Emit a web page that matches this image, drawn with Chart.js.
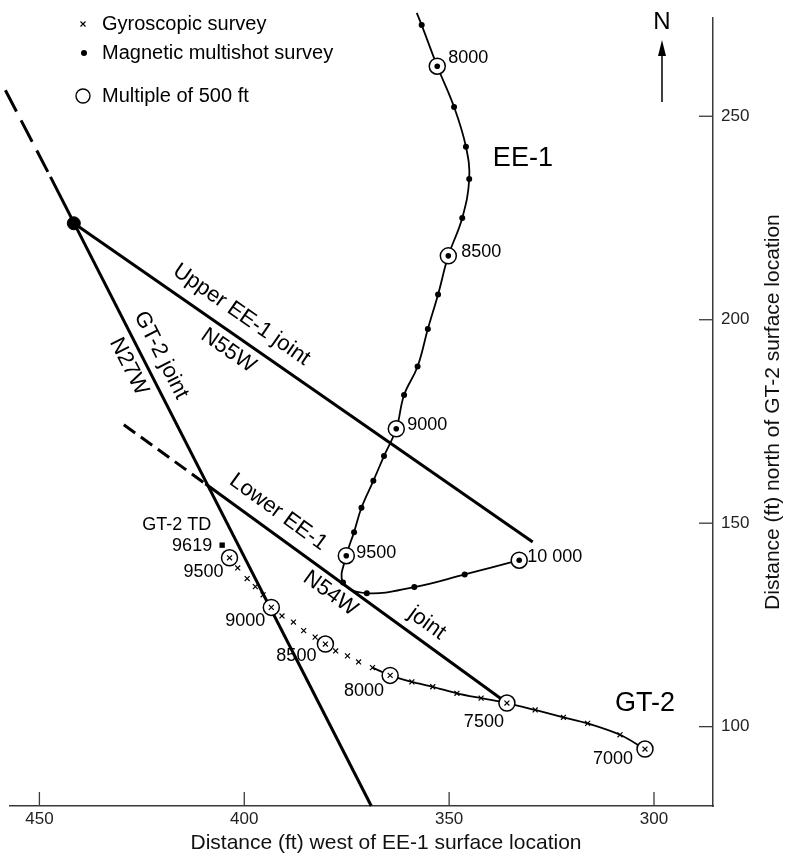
<!DOCTYPE html>
<html><head><meta charset="utf-8">
<script src="https://cdn.jsdelivr.net/npm/chart.js@4/dist/chart.umd.min.js"></script>
<style>html,body{margin:0;padding:0;background:#fff}#c{display:block}</style>
</head><body>
<canvas id="c" width="791" height="859"></canvas>
<script>
// ---------- DATA ----------
// EE-1 magnetic multishot survey (depth ft, west ft, north ft), 7900..10000 every 100 ft
const ee1Depths = [7900,8000,8100,8200,8300,8400,8500,8600,8700,8800,8900,9000,9100,9200,9300,9400,9500,9600,9700,9800,9900,10000];
const ee1West  = [356.7,352.9,348.8,345.9,345.1,346.8,350.2,352.7,355.2,357.7,361.0,362.9,365.9,368.5,371.4,373.2,375.1,375.9,370.1,358.5,346.2,332.9];
const ee1North = [272.4,262.3,252.3,242.5,234.6,225.0,215.7,206.2,197.7,188.5,181.5,173.2,166.5,160.4,153.8,147.8,142.0,135.4,132.8,134.3,137.4,140.9];
// trace continues above the plotted survey
const ee1TraceTop = {west: 357.9, north: 275.4};

// GT-2 gyroscopic survey, 7000..9500 every 100 ft
const gt2Depths = [7000,7100,7200,7300,7400,7500,7600,7700,7800,7900,8000,8100,8200,8300,8400,8500,8600,8700,8800,8900,9000,9100,9200,9300,9400,9500];
const gt2West  = [302.2,308.3,316.2,322.1,329.0,335.9,342.2,348.1,354.0,359.1,364.4,368.7,372.1,374.8,377.7,380.2,382.7,385.5,388.0,390.8,393.4,395.4,397.3,399.3,401.6,403.6];
const gt2North = [94.5,98.0,100.8,102.3,104.1,105.8,107.0,108.2,109.8,111.0,112.6,114.5,115.9,117.4,118.6,120.3,122.0,123.6,125.7,127.2,129.3,132.4,134.4,136.4,139.0,141.5];
const gt2LineLastDepth = 8100;           // continuous trace drawn from 7000 to here
const gt2TD = {depth: 9619, west: 405.4, north: 144.6};

// Joints (west, north)
const jointNode = {west: 441.6, north: 223.7};
const gt2JointSolid = [[447.3,235.1],[369.0,80.5]];
const gt2JointDashed = [[458.3,256.4],[447.3,235.1]];
const upperJoint = [[441.6,223.7],[329.6,145.4]];
const lowerJointSolid = [[409.5,159.7],[335.9,105.8]];
const lowerJointDashed = [[429.4,174.2],[409.5,159.7]];

// Axes
const xTicks = [450,400,350,300];
const yTicks = [100,150,200,250];
const xRange = [285.6, 457.3];
const yRange = [80.5, 274.1];
const xTitle = 'Distance (ft) west of EE-1 surface location';
const yTitle = 'Distance (ft) north of GT-2 surface location';

// ---------- helpers ----------
const FAM = '"Liberation Sans", Arial, Helvetica, sans-serif';
const pts = (xs, ys) => xs.map((v,i)=>({x:v, y:ys[i]}));
const isMult = d => d % 500 === 0;
const ee1All = pts(ee1West, ee1North);
const gt2All = pts(gt2West, gt2North);
const ee1Mult = ee1All.filter((p,i)=>isMult(ee1Depths[i]));
const ee1Other = ee1All.filter((p,i)=>!isMult(ee1Depths[i]));
const gt2Mult = gt2All.filter((p,i)=>isMult(gt2Depths[i]));
const gt2Other = gt2All.filter((p,i)=>!isMult(gt2Depths[i]));
const gt2Line = gt2All.filter((p,i)=>gt2Depths[i] <= gt2LineLastDepth);
const seg = a => a.map(p=>({x:p[0], y:p[1]}));

const base = {showLine:false, clip:false, pointHoverRadius:0};
const lineDs = (data, o) => Object.assign({}, base, {data, showLine:true, borderColor:'#000', pointRadius:0, borderWidth:3, order:10}, o);

const datasets = [
  lineDs(seg(gt2JointSolid)),
  lineDs(seg(gt2JointDashed), {borderDash:[24,10]}),
  lineDs(seg(upperJoint)),
  lineDs(seg(lowerJointSolid)),
  lineDs(seg(lowerJointDashed), {borderDash:[14,7]}),
  lineDs([{x:ee1TraceTop.west,y:ee1TraceTop.north}].concat(ee1All), {borderWidth:1.8, tension:0.4, order:8}),
  lineDs(gt2Line, {borderWidth:1.8, tension:0.3, order:8}),
  Object.assign({}, base, {data:[{x:jointNode.west,y:jointNode.north}], pointRadius:6.5, backgroundColor:'#000', borderColor:'#000', order:4}),
  Object.assign({}, base, {data:ee1Other, pointRadius:3, backgroundColor:'#000', borderColor:'#000', borderWidth:0, order:5}),
  Object.assign({}, base, {data:gt2Other, pointStyle:'crossRot', pointRadius:3.5, borderColor:'#000', borderWidth:1.2, order:5}),
  Object.assign({}, base, {data:ee1Mult.concat(gt2Mult), pointRadius:8, backgroundColor:'#fff', borderColor:'#000', borderWidth:1.5, order:3}),
  Object.assign({}, base, {data:ee1Mult, pointRadius:2.8, backgroundColor:'#000', borderColor:'#000', borderWidth:0, order:2}),
  Object.assign({}, base, {data:gt2Mult, pointStyle:'crossRot', pointRadius:3.5, borderColor:'#000', borderWidth:1.2, order:2}),
  Object.assign({}, base, {data:[{x:gt2TD.west,y:gt2TD.north}], pointStyle:'rect', pointRadius:3.8, backgroundColor:'#000', borderColor:'#000', borderWidth:0, order:2}),
];

// depth labels: [series, depth, text, align, dx, dy]
const depthLabels = [
  ['ee1',8000,'8000','left',11,-8],
  ['ee1',8500,'8500','left',13,-4],
  ['ee1',9000,'9000','left',11,-4],
  ['ee1',9500,'9500','left',10,-3],
  ['ee1',10000,'10 000','left',8,-3],
  ['gt2',9500,'9500','right',-6,14],
  ['gt2',9000,'9000','right',-6,14],
  ['gt2',8500,'8500','right',-9,12],
  ['gt2',8000,'8000','right',-6,16],
  ['gt2',7500,'7500','right',-3,19],
  ['gt2',7000,'7000','right',-12,10],
];
// joint labels: [text, west, north, line]
const jointLabels = [
  ['Upper EE-1 joint', 400.7, 201.2, upperJoint],
  ['N55W', 403.9, 192.4, upperJoint],
  ['GT-2 joint', 420.3, 191.3, gt2JointSolid],
  ['N27W', 428.2, 188.5, gt2JointSolid],
  ['Lower EE-1', 391.7, 152.7, lowerJointSolid],
  ['N54W', 379.0, 132.7, lowerJointSolid],
  ['joint', 355.4, 125.4, lowerJointSolid],
];

const decor = {
  id:'decor',
  afterDraw(chart){
    const {ctx, chartArea:a, scales:{x, y}} = chart;
    const X = v=>x.getPixelForValue(v), Y = v=>y.getPixelForValue(v);
    ctx.save();
    // inward ticks
    ctx.strokeStyle='#3a3a3a'; ctx.lineWidth=1.3;
    xTicks.forEach(v=>{const p=X(v); ctx.beginPath(); ctx.moveTo(p,a.bottom); ctx.lineTo(p,a.bottom-14); ctx.stroke();});
    yTicks.forEach(v=>{const p=Y(v); ctx.beginPath(); ctx.moveTo(a.right,p); ctx.lineTo(a.right-14,p); ctx.stroke();});
    // axis titles
    ctx.fillStyle='#111'; ctx.textBaseline='middle'; ctx.textAlign='center';
    ctx.font='21px '+FAM;
    ctx.fillText(xTitle, 386, 843);
    ctx.save(); ctx.translate(773,(a.top+a.bottom)/2); ctx.rotate(-Math.PI/2); ctx.fillText(yTitle,0,0); ctx.restore();
    // depth labels
    ctx.font='18px '+FAM; ctx.fillStyle='#000';
    depthLabels.forEach(([s,d,t,al,dx,dy])=>{
      const i = (s==='ee1'?ee1Depths:gt2Depths).indexOf(d);
      const px = X((s==='ee1'?ee1West:gt2West)[i]), py = Y((s==='ee1'?ee1North:gt2North)[i]);
      ctx.textAlign=al; ctx.fillText(t, px+dx, py+dy);
    });
    // TD
    const tx = X(gt2TD.west), ty = Y(gt2TD.north);
    ctx.textAlign='right';
    ctx.fillText(String(gt2TD.depth), tx-10, ty+1);
    ctx.fillText('GT-2 TD', tx-11, ty-20);
    // well names
    ctx.font='27px '+FAM; ctx.textAlign='center';
    ctx.fillText('EE-1', X(332.0), Y(239.7));
    ctx.fillText('GT-2', X(302.2), Y(105.7));
    // joint labels
    ctx.font='22px '+FAM;
    jointLabels.forEach(([t,w,n,ln])=>{
      const ang = Math.atan2(Y(ln[1][1])-Y(ln[0][1]), X(ln[1][0])-X(ln[0][0]));
      ctx.save(); ctx.translate(X(w),Y(n)); ctx.rotate(ang); ctx.fillText(t,0,0); ctx.restore();
    });
    // legend
    ctx.textAlign='left'; ctx.font='20px '+FAM; ctx.fillStyle='#000';
    ctx.fillText('Gyroscopic survey', 102, 24);
    ctx.fillText('Magnetic multishot survey', 102, 53);
    ctx.fillText('Multiple of 500 ft', 102, 96);
    ctx.lineWidth=1.2; ctx.strokeStyle='#000';
    ctx.beginPath(); ctx.moveTo(80.5,21.5); ctx.lineTo(85.5,26.5); ctx.moveTo(85.5,21.5); ctx.lineTo(80.5,26.5); ctx.stroke();
    ctx.beginPath(); ctx.arc(84,53,3,0,Math.PI*2); ctx.fill();
    ctx.lineWidth=1.4; ctx.beginPath(); ctx.arc(83,96,7,0,Math.PI*2); ctx.stroke();
    // north arrow
    ctx.font='24px '+FAM; ctx.textAlign='center';
    ctx.fillText('N', 662, 22);
    ctx.lineWidth=1.5; ctx.beginPath(); ctx.moveTo(662,102); ctx.lineTo(662,50); ctx.stroke();
    ctx.beginPath(); ctx.moveTo(662,40); ctx.lineTo(666,56); ctx.lineTo(658,56); ctx.closePath(); ctx.fill();
    ctx.restore();
  }
};

new Chart(document.getElementById('c'), {
  type:'scatter',
  data:{datasets},
  options:{
    responsive:false, animation:false,
    layout:{padding:{left:9, top:12, right:0, bottom:0}},
    plugins:{legend:{display:false}, tooltip:{enabled:false}},
    scales:{
      x:{type:'linear', reverse:true, min:xRange[0], max:xRange[1], position:'bottom',
         afterBuildTicks: s=>{s.ticks = xTicks.map(v=>({value:v}));},
         afterFit: s=>{s.height=53;},
         grid:{display:false, drawTicks:false},
         border:{display:true, color:'#3a3a3a', width:1.5},
         ticks:{padding:3, color:'#222', font:{size:17, family:FAM}}},
      y:{type:'linear', position:'right', min:yRange[0], max:yRange[1],
         afterBuildTicks: s=>{s.ticks = yTicks.map(v=>({value:v}));},
         afterFit: s=>{s.width=78;},
         grid:{display:false, drawTicks:false},
         border:{display:true, color:'#3a3a3a', width:1.5},
         ticks:{padding:8, color:'#222', font:{size:17, family:FAM}}}
    }
  },
  plugins:[decor]
});
</script>
</body></html>
